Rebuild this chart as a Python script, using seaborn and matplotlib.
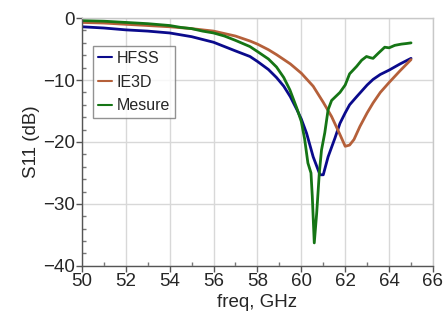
import matplotlib
matplotlib.use("Agg")
import matplotlib.pyplot as plt
import seaborn as sns
import pandas as pd
from matplotlib.ticker import MultipleLocator

# ---------------- DATA ----------------
hfss_f = [50, 51, 52, 53, 54, 55, 56, 57, 57.66, 58, 58.5, 58.87, 59.2, 59.5, 59.8, 60,
          60.24, 60.54, 60.85, 61.0, 61.22, 61.53, 61.76, 62, 62.2, 62.52, 63, 63.27,
          63.6, 64, 64.5, 65]
hfss_s = [-1.4, -1.6, -1.9, -2.1, -2.4, -3.0, -3.9, -5.3, -6.2, -7.0, -8.3, -9.6, -11.0,
          -12.7, -14.8, -16.3, -18.6, -22.4, -25.3, -25.3, -22.4, -19.4, -17.0, -15.3,
          -14.0, -12.7, -10.8, -9.9, -9.1, -8.4, -7.4, -6.5]

ie3d_f = [50, 51, 52, 53, 54, 55, 56, 57, 57.66, 58, 58.5, 58.87, 59.5, 60, 60.54, 61,
          61.38, 61.76, 62, 62.2, 62.4, 62.67, 63, 63.27, 63.6, 64, 64.5, 65]
ie3d_s = [-0.7, -0.8, -1.0, -1.2, -1.4, -1.7, -2.1, -2.9, -3.7, -4.2, -5.1, -5.9, -7.4,
          -8.9, -11.0, -13.6, -15.9, -18.8, -20.7, -20.5, -19.6, -17.5, -15.3, -13.7,
          -12.0, -10.4, -8.5, -6.7]

mes_f = [50, 51, 52, 53, 54, 54.5, 55, 55.5, 56, 56.5, 57, 57.66, 58, 58.5, 58.87, 59.2,
         59.48, 59.8, 60, 60.15, 60.3, 60.44, 60.5, 60.59, 60.7, 60.82, 60.92, 61.07,
         61.22, 61.38, 61.76, 62.0, 62.2, 62.52, 62.75, 62.97, 63.15, 63.27, 63.5, 63.8,
         64.0, 64.26, 64.56, 64.8, 65.0]
mes_s = [-0.4, -0.5, -0.7, -0.9, -1.2, -1.5, -1.7, -2.1, -2.4, -2.9, -3.6, -4.6, -5.4,
         -6.6, -7.9, -9.6, -11.6, -14.6, -16.7, -19.5, -23.4, -25.0, -28.8, -36.3, -31.5,
         -25.0, -21.3, -18.5, -14.8, -13.3, -12.0, -10.8, -9.0, -7.8, -6.8, -6.2, -6.4,
         -6.5, -5.7, -4.7, -4.8, -4.4, -4.2, -4.1, -4.0]

series = ["HFSS", "IE3D", "Mesure"]
colors = ["#0a0a8c", "#b5603a", "#157515"]

df = pd.concat([
    pd.DataFrame({"freq": hfss_f, "s11": hfss_s, "name": "HFSS"}),
    pd.DataFrame({"freq": ie3d_f, "s11": ie3d_s, "name": "IE3D"}),
    pd.DataFrame({"freq": mes_f, "s11": mes_s, "name": "Mesure"}),
])

# ---------------- PLOT ----------------
sns.set_style("white")
plt.rcParams["font.family"] = ["Liberation Sans", "DejaVu Sans"]

fig = plt.figure(figsize=(4.45, 3.29), dpi=100)
ax = fig.add_axes([0.184, 0.192, 0.789, 0.753])

sns.lineplot(data=df, x="freq", y="s11", hue="name", hue_order=series,
             palette=colors, linewidth=2, sort=False, ax=ax)

ax.set_xlim(50, 66)
ax.set_ylim(-40, 0)
ax.xaxis.set_major_locator(MultipleLocator(2))
ax.xaxis.set_minor_locator(MultipleLocator(1))
ax.yaxis.set_major_locator(MultipleLocator(10))
ax.yaxis.set_minor_locator(MultipleLocator(2))

ax.grid(True, which="major", color="#d8d8d8", linewidth=1)
ax.tick_params(which="major", direction="out", length=4, width=1, color="#555555",
               labelsize=13.5, pad=1, bottom=True, left=True)
ax.tick_params(which="minor", direction="in", length=3, width=1, color="#777777",
               bottom=True, left=True)

for side in ["top", "right"]:
    ax.spines[side].set_color("#c8c8c8")
for side in ["bottom", "left"]:
    ax.spines[side].set_color("#555555")
for sp in ax.spines.values():
    sp.set_linewidth(1)

ax.set_xlabel("freq, GHz", fontsize=13.5, labelpad=3)
ax.set_ylabel("S11 (dB)", fontsize=13.5, labelpad=2)

leg = ax.legend(loc="upper left", bbox_to_anchor=(0.031, 0.887), fontsize=11.5,
                frameon=True, fancybox=False, edgecolor="#777777",
                borderaxespad=0, handlelength=0.9, handletextpad=0.3,
                borderpad=0.3, labelspacing=0.55, title=None)
leg.get_frame().set_linewidth(1)
for line in leg.get_lines():
    line.set_linewidth(1.5)

fig.savefig("out.png", dpi=100)
plt.close()
